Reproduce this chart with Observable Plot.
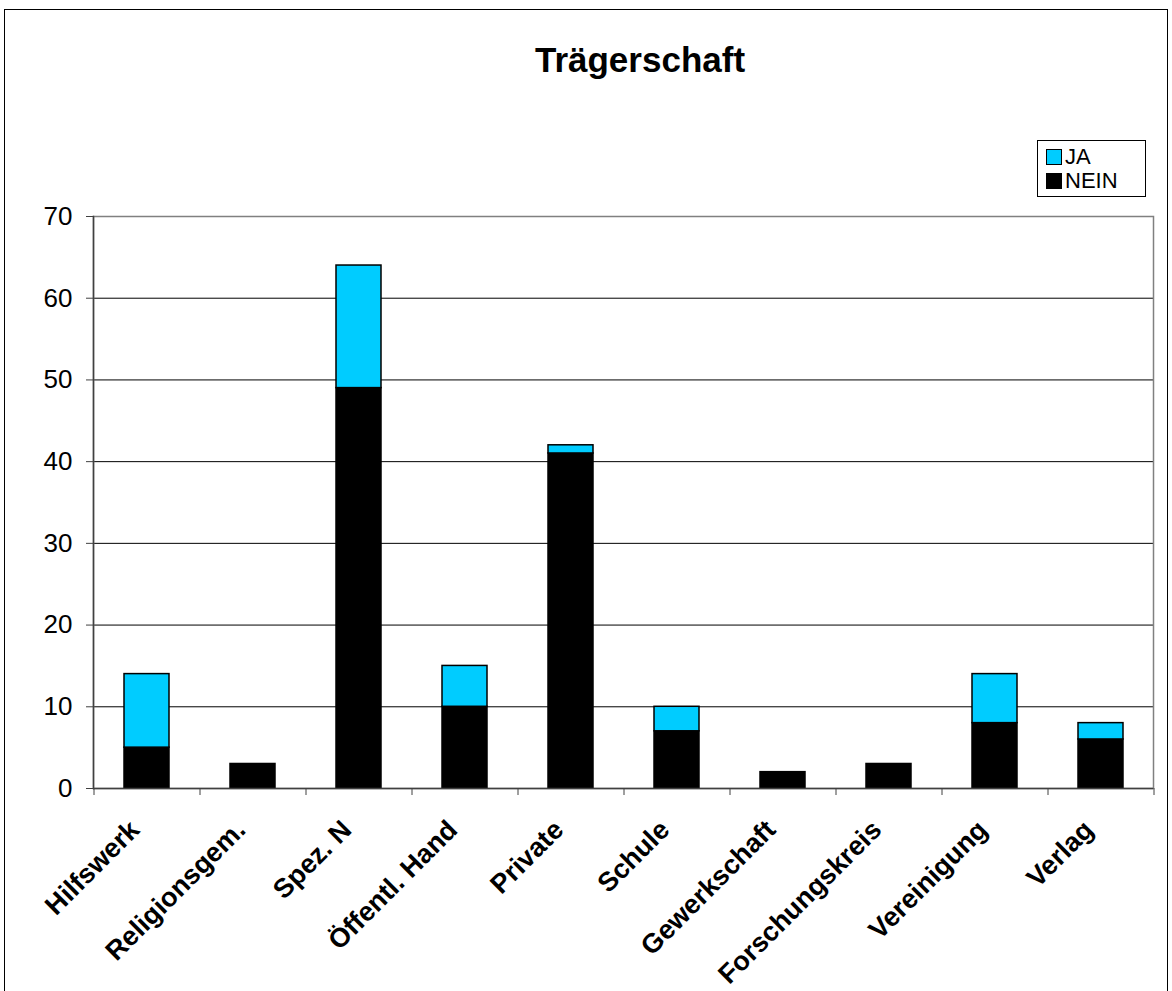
<!DOCTYPE html>
<html>
<head>
<meta charset="utf-8">
<script src="https://cdn.jsdelivr.net/npm/d3@7"></script>
<script src="https://cdn.jsdelivr.net/npm/@observablehq/plot@0.6"></script>
<style>
  body { margin: 0; background: #fff; font-family: "Liberation Sans", Arial, sans-serif; }
  #chart { position: relative; width: 1172px; height: 991px; overflow: hidden; background: #fff; }
  #chart svg { position: absolute; left: 0; top: 0; }
  #frame { position: absolute; left: 4px; top: 9px; width: 1164px; height: 1000px; border: 1px solid #000; box-sizing: border-box; pointer-events: none; }
  #title { position: absolute; left: 0; width: 1280px; top: 42px; line-height: 35px; text-align: center; font-weight: bold; font-size: 35px; color: #000; }
  #legend { position: absolute; left: 1037px; top: 140px; width: 109px; height: 57px; border: 1px solid #000; box-sizing: border-box; background: #fff; font-size: 22px; }
  #legend .swatch { position: absolute; left: 8px; width: 16px; height: 16px; border: 1px solid #000; box-sizing: border-box; }
  #legend .label { position: absolute; left: 27px; line-height: 24px; height: 24px; white-space: nowrap; }
</style>
</head>
<body>
<div id="chart">
  <div id="frame"></div>
  <div id="title">Trägerschaft</div>
  <div id="legend"></div>
</div>
<script>
// Categories of the funding body (Trägerschaft) and counts per answer
const categories = ["Hilfswerk", "Religionsgem.", "Spez. N", "Öffentl. Hand", "Private", "Schule", "Gewerkschaft", "Forschungskreis", "Vereinigung", "Verlag"];
const neinValues = [5, 3, 49, 10, 41, 7, 2, 3, 8, 6];
const jaValues = [9, 0, 15, 5, 1, 3, 0, 0, 6, 2];
const seriesNames = ["JA", "NEIN"];
const seriesColors = ["#00CCFF", "#000000"];
const yTicks = [0, 10, 20, 30, 40, 50, 60, 70];

// Long table for the stacked bars: NEIN at the bottom, JA on top
const rows = [
  ...categories.map((c, i) => ({category: c, series: "NEIN", value: neinValues[i]})),
  ...categories.map((c, i) => ({category: c, series: "JA", value: jaValues[i]}))
].filter(d => d.value > 0);

const W = 1172, H = 991;
const margin = {left: 93, right: 19, top: 216, bottom: 203};
const step = (W - margin.left - margin.right) / categories.length;

const chart = Plot.plot({
  width: W,
  height: H,
  marginLeft: margin.left,
  marginRight: margin.right,
  marginTop: margin.top,
  marginBottom: margin.bottom,
  style: {fontFamily: "'Liberation Sans', Arial, sans-serif", fontSize: "26px", color: "#000", background: "transparent", overflow: "visible"},
  x: {domain: categories, paddingInner: 0.58, paddingOuter: 0.29, label: null, axis: null},
  y: {domain: [0, 70], label: null, axis: null},
  color: {domain: seriesNames, range: seriesColors},
  marks: [
    Plot.ruleY(yTicks.filter(v => v > 0 && v < 70), {stroke: "#000", strokeWidth: 1}),
    Plot.frame({stroke: "#808080", strokeWidth: 1.5}),
    Plot.barY(rows, {x: "category", y: "value", fill: "series", stroke: "#000", strokeWidth: 1.5, order: ["NEIN", "JA"]}),
    Plot.frame({anchor: "left", stroke: "#404040", strokeWidth: 1.5}),
    Plot.ruleY([0], {stroke: "#404040", strokeWidth: 1.5}),
    Plot.axisY({ticks: yTicks, tickSize: 7, tickPadding: 14, fontSize: 26, stroke: "#404040", label: null}),
    // category boundary ticks below the axis
    Plot.axisX({ticks: categories, tickSize: 7, dx: -step / 2, tickFormat: () => "", stroke: "#404040", label: null}),
    Plot.axisX({ticks: categories.slice(-1), tickSize: 7, dx: step / 2, tickFormat: () => "", stroke: "#404040", label: null}),
    // rotated category labels
    Plot.text(categories, {x: d => d, frameAnchor: "bottom", text: d => d, rotate: -45, textAnchor: "end", lineAnchor: "bottom", dx: -6, dy: 43, fontSize: 27, fontWeight: "bold", fill: "#000"})
  ]
});
document.getElementById("chart").insertBefore(chart, document.getElementById("frame"));

// legend: one swatch and label per series
const legend = document.getElementById("legend");
seriesNames.forEach((name, i) => {
  const sw = document.createElement("span");
  sw.className = "swatch";
  sw.style.top = (8 + i * 24) + "px";
  sw.style.background = seriesColors[i];
  const label = document.createElement("span");
  label.className = "label";
  label.style.top = (4 + i * 24) + "px";
  label.textContent = name;
  legend.append(sw, label);
});
</script>
</body>
</html>
